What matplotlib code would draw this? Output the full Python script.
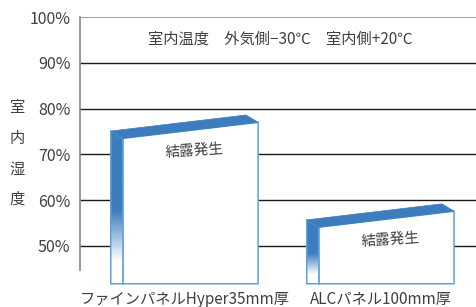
import numpy as np
import matplotlib.pyplot as plt
from matplotlib.patches import Polygon
from matplotlib.colors import to_rgb

plt.rcParams['font.family'] = ['Noto Sans CJK JP', 'DejaVu Sans']

# data
categories = ['ファインパネルHyper35mm厚', 'ALCパネル100mm厚']
front_left_top = [73.5, 54.1]    # 室内湿度 at left edge of front face (%)
front_right_top = [77.0, 57.6]   # 室内湿度 at right edge of front face (%)
bar_labels = ['結露発生', '結露発生']
yticks = [50, 60, 70, 80, 90, 100]
title = '室内温度　外気側−30℃　室内側+20℃'
ylabel_chars = ['室', '内', '湿', '度']

text_c = '#404040'
blue = '#3d7dbd'
edge = '#5ea2dc'

fig = plt.figure(figsize=(4.77, 3.07), dpi=100)
ax = fig.add_axes([80 / 477, 23 / 307, 397 / 477, 267 / 307])
ax.set_ylim(41.7, 100)
ax.set_xlim(-0.564, 1.462)

for s in ['top', 'right', 'bottom']:
    ax.spines[s].set_visible(False)
ax.spines['left'].set_bounds(44.8, 100)
ax.spines['left'].set_color('#888888')
ax.spines['left'].set_linewidth(1.2)
ax.set_xticks([])
ax.set_yticks(yticks)
ax.set_yticklabels([f'{v}%' for v in yticks], fontsize=11.5, color=text_c)
ax.tick_params(axis='y', length=0, pad=7)

for v in yticks:
    if v == 100:
        ax.axhline(v, color='#999999', lw=1.3, zorder=1)
    else:
        ax.axhline(v, color='#1a1a1a', lw=1.0, zorder=1)

half_w = 0.345   # half width of front face
depth = 0.062    # oblique depth in x
rise = 1.6       # oblique depth in y (%)
bottom = 41.75

# gradient for side face: solid blue then fading to white
n = 256
frac = np.linspace(0, 1, n)
mix = np.clip((frac - 0.52) / (0.85 - 0.52), 0, 1)
b = np.array(to_rgb(blue))
grad = (1 - mix)[:, None] * b[None, :] + mix[:, None] * np.ones(3)[None, :]
grad = grad[:, None, :]

for i, cat in enumerate(categories):
    xl = i - half_w
    xr = i + half_w
    yl = front_left_top[i]
    yr = front_right_top[i]

    # front face
    front = Polygon([(xl, yl), (xr, yr), (xr, bottom), (xl, bottom)], closed=True,
                    facecolor='white', edgecolor=edge, lw=1.1, zorder=3, clip_on=False)
    ax.add_patch(front)

    # side face with gradient
    side_pts = [(xl - depth, yl + rise), (xl, yl), (xl, bottom), (xl - depth, bottom)]
    side = Polygon(side_pts, closed=True, facecolor='none', edgecolor=edge, lw=1.1,
                   zorder=4, clip_on=False)
    ax.add_patch(side)
    im = ax.imshow(grad, extent=[xl - depth, xl, bottom, yl + rise], aspect='auto',
                   origin='upper', zorder=3, interpolation='bilinear')
    im.set_clip_path(side)

    # top face
    top = Polygon([(xl - depth, yl + rise), (xr - depth, yr + rise), (xr, yr), (xl, yl)],
                  closed=True, facecolor=blue, edgecolor=blue, lw=0.5, zorder=4)
    ax.add_patch(top)

    ax.text(i + 0.02, (yl + yr) / 2 - 4.5, bar_labels[i], fontsize=10.5, color=text_c,
            ha='center', va='center', rotation=4, zorder=5)

    ax.text(i - 0.03, 38.4, cat, fontsize=11, color=text_c, ha='center', va='center',
            clip_on=False)

ax.text(0.46, 95.1, title, fontsize=11, color=text_c, ha='center', va='center')

ys = [108, 138, 169, 199]
for ch, yp in zip(ylabel_chars, ys):
    fig.text(17 / 477, 1 - yp / 307, ch, fontsize=11, color=text_c, ha='center', va='center')

fig.savefig('out.png', dpi=100)
